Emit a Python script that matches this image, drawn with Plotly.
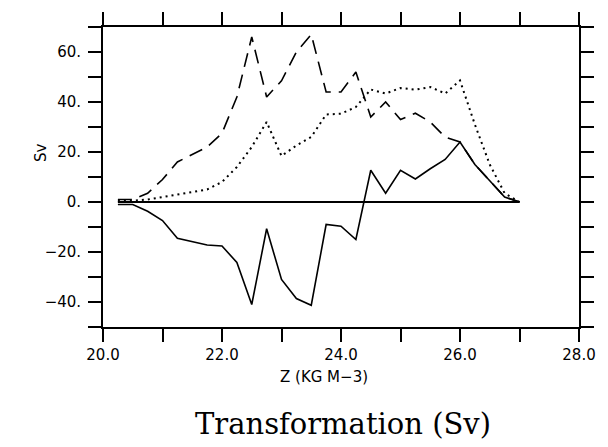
import plotly.graph_objects as go

# Density classes (kg m-3 anomaly)
density = [20.25, 20.5, 20.75, 21.0, 21.25, 21.5, 21.75, 22.0,
           22.25, 22.5, 22.75, 23.0, 23.25, 23.5, 23.75, 24.0,
           24.25, 24.5, 24.75, 25.0, 25.25, 25.5, 25.75, 26.0,
           26.25, 26.5, 26.75, 27.0]

# Net transformation (solid)
net = [-1, -1, -3.7, -7.4, -14.5, -16, -17.2, -17.6,
       -24.2, -41, -10.7, -31, -38.6, -41.3, -9, -9.7,
       -15, 12.7, 3.5, 12.7, 9.2, 13.3, 17, 24,
       15, 8.5, 2, 0]

# Dashed component
dashed = [1, 1, 3.5, 9, 16, 19, 22, 27.5,
          42, 66, 42, 48.5, 60, 67, 44, 44,
          52, 34, 40, 33, 35.5, 32, 26, 24,
          15, 8.5, 2, 0]

# Dotted component
dotted = [0.5, 0.5, 1, 2, 3, 4, 5, 8,
          14, 22, 32, 18.4, 22.6, 26, 35, 35.3,
          38, 45, 43.4, 45.6, 44.9, 46, 43.4, 48.6,
          31, 15, 3.5, 0]

baseline = [0] * len(density)

x_ticks = [20, 21, 22, 23, 24, 25, 26, 27, 28]
x_labels = ["20.0", "", "22.0", "", "24.0", "", "26.0", "", "28.0"]
y_ticks = [-50, -40, -30, -20, -10, 0, 10, 20, 30, 40, 50, 60, 70]
y_labels = ["", "\u221240.", "", "\u221220.", "", "0.", "", "20.", "", "40.", "", "60.", ""]

fig = go.Figure()
fig.add_trace(go.Scatter(x=density, y=baseline, mode="lines",
                         line=dict(color="black", width=1.8)))
fig.add_trace(go.Scatter(x=density, y=net, mode="lines",
                         line=dict(color="black", width=1.6)))
fig.add_trace(go.Scatter(x=density, y=dashed, mode="lines",
                         line=dict(color="black", width=1.6, dash="14px,8px")))
fig.add_trace(go.Scatter(x=density, y=dotted, mode="lines",
                         line=dict(color="black", width=2, dash="2px,4px")))

axis_font = dict(family="DejaVu Sans", size=15, color="black")

fig.update_xaxes(range=[20, 28], tickmode="array", tickvals=x_ticks, ticktext=x_labels,
                 ticks="outside", ticklen=13, tickwidth=1.6, tickcolor="black",
                 showline=True, linecolor="black", linewidth=1.8, mirror="allticks",
                 showgrid=False, zeroline=False, tickfont=axis_font)
fig.update_yaxes(range=[-50, 70], tickmode="array", tickvals=y_ticks, ticktext=y_labels,
                 ticks="outside", ticklen=13, tickwidth=1.6, tickcolor="black",
                 showline=True, linecolor="black", linewidth=1.8, mirror="allticks",
                 showgrid=False, zeroline=False, tickfont=axis_font, ticklabelstandoff=4)

fig.add_annotation(text="Z (KG M\u22123)", xref="paper", yref="paper",
                   x=0.465, y=-0.168, xanchor="center", yanchor="middle",
                   showarrow=False, font=axis_font)
fig.add_annotation(text="Sv", xref="paper", yref="paper",
                   x=-0.13, y=0.58, xanchor="center", yanchor="middle",
                   textangle=-90, showarrow=False, font=axis_font)
fig.add_annotation(text="Transformation (Sv)", xref="paper", yref="paper",
                   x=0.505, y=-0.322, xanchor="center", yanchor="middle",
                   showarrow=False,
                   font=dict(family="DejaVu Serif", size=29, color="black"))

fig.update_layout(width=608, height=447, showlegend=False,
                  margin=dict(l=103, r=26, t=23, b=120),
                  plot_bgcolor="white", paper_bgcolor="white")

fig.write_html("out.html")
